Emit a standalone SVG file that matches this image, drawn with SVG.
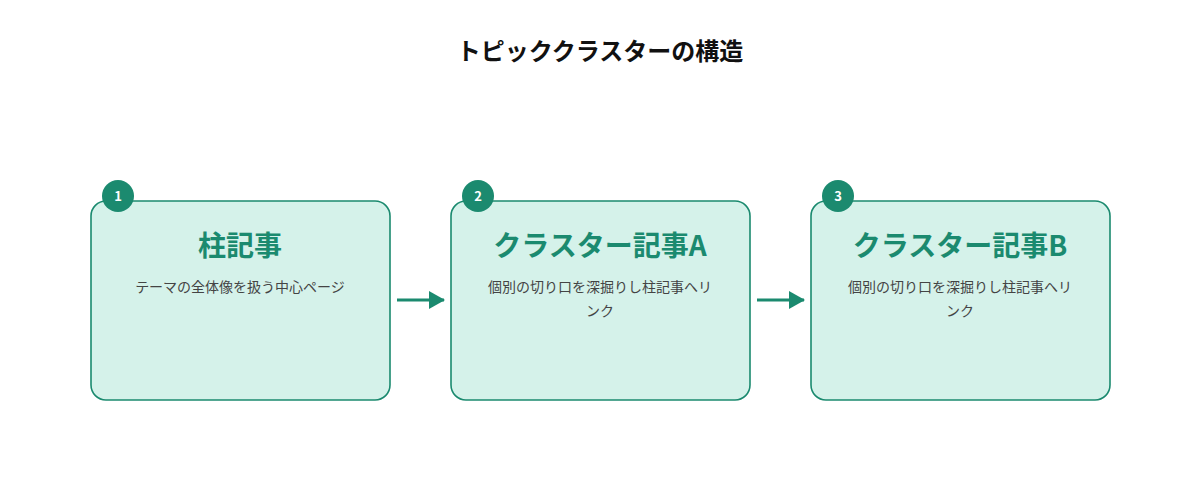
<svg xmlns="http://www.w3.org/2000/svg" width="1200" height="500" viewBox="0 0 1200 500">
<style>
.box{fill:#d5f2ea;stroke:#1b8a6f;stroke-width:1.6}
.badge{fill:#1b8a6f}
.num{font-family:"Noto Sans CJK JP","Noto Sans",sans-serif;font-size:13px;font-weight:700;fill:#fff;text-anchor:middle}
.ttl{font-family:"Noto Sans CJK JP",sans-serif;font-size:28px;font-weight:700;fill:#1b8a6f;text-anchor:middle}
.desc{font-family:"Noto Sans CJK JP",sans-serif;font-size:14px;fill:#444;text-anchor:middle}
.head{font-family:"Noto Sans CJK JP",sans-serif;font-size:24px;font-weight:700;fill:#111;text-anchor:middle}
.ln{stroke:#1b8a6f;stroke-width:3;fill:none}
</style>
<defs><marker id="ah" markerWidth="16" markerHeight="18" refX="15" refY="9" orient="auto" markerUnits="userSpaceOnUse"><path d="M0,0L16,9L0,18Z" fill="#1b8a6f"/></marker></defs>
<rect width="1200" height="500" fill="#fff"/>
<text class="head" x="600" y="60">トピッククラスターの構造</text>
<g id="connectors">
<line class="ln" x1="397" y1="300" x2="444" y2="300" marker-end="url(#ah)"/>
<line class="ln" x1="757" y1="300" x2="804" y2="300" marker-end="url(#ah)"/>
</g>
<g id="node1">
<rect class="box" x="91" y="201" width="299" height="199" rx="15"/>
<circle class="badge" cx="118" cy="196" r="16"/><text class="num" x="118" y="201">1</text>
<text class="ttl" x="240" y="256">柱記事</text>
<text class="desc" x="240" y="292">テーマの全体像を扱う中心ページ</text>
</g>
<g id="node2">
<rect class="box" x="451" y="201" width="299" height="199" rx="15"/>
<circle class="badge" cx="478" cy="196" r="16"/><text class="num" x="478" y="201">2</text>
<text class="ttl" x="600" y="256">クラスター記事A</text>
<text class="desc" x="600" y="292">個別の切り口を深掘りし柱記事へリ</text>
<text class="desc" x="600" y="316">ンク</text>
</g>
<g id="node3">
<rect class="box" x="811" y="201" width="299" height="199" rx="15"/>
<circle class="badge" cx="838" cy="196" r="16"/><text class="num" x="838" y="201">3</text>
<text class="ttl" x="960" y="256">クラスター記事B</text>
<text class="desc" x="960" y="292">個別の切り口を深掘りし柱記事へリ</text>
<text class="desc" x="960" y="316">ンク</text>
</g>
</svg>
